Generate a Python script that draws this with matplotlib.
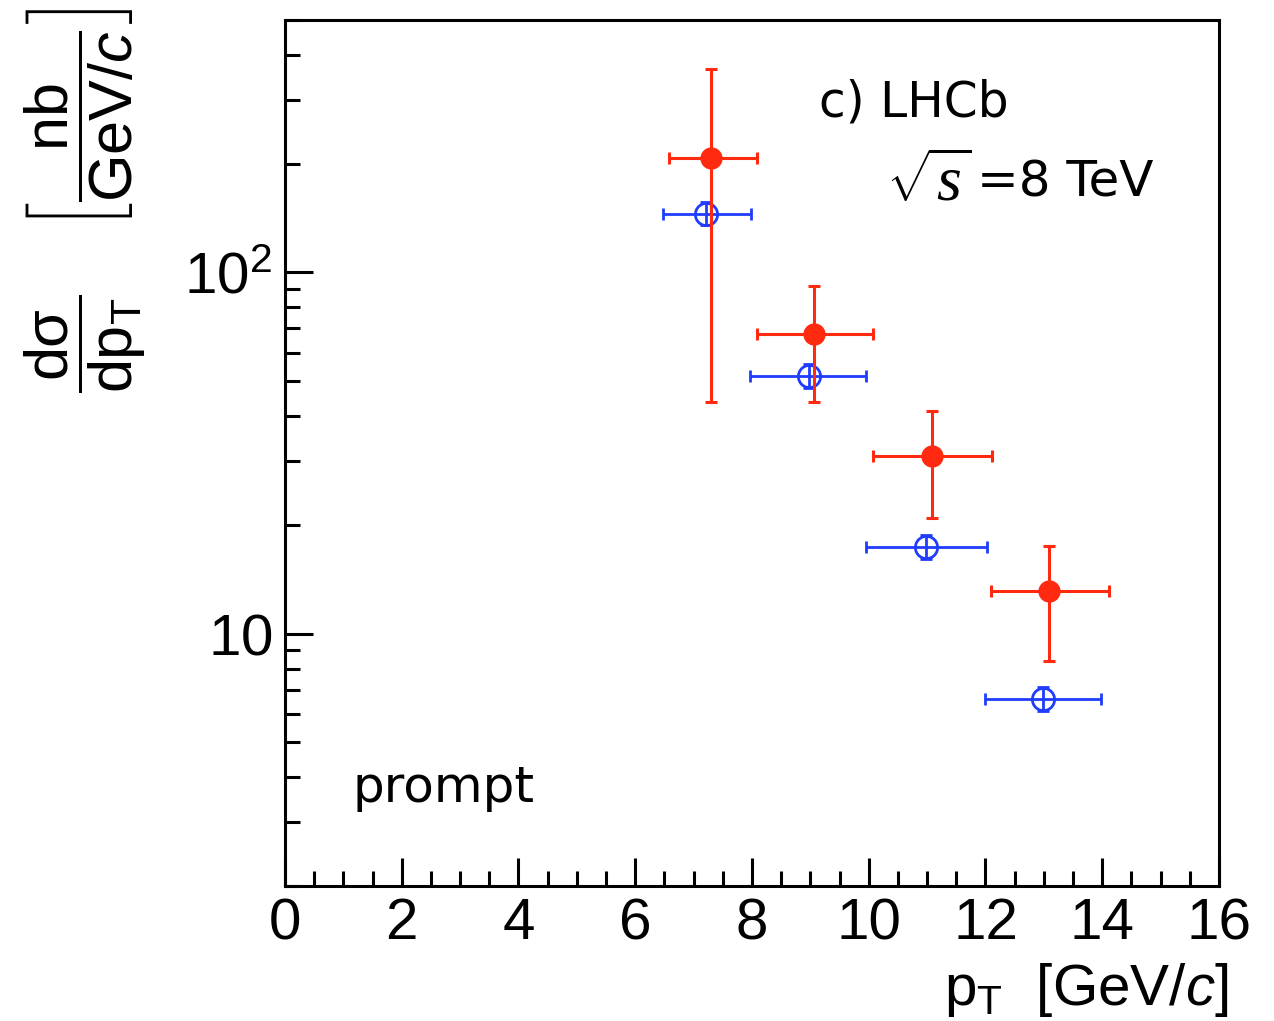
import numpy as np
import matplotlib
matplotlib.use('Agg')
import matplotlib.pyplot as plt
from matplotlib.ticker import MultipleLocator, LogLocator, FixedFormatter, FixedLocator, NullFormatter

plt.rcParams['mathtext.fontset'] = 'custom'
plt.rcParams['mathtext.rm'] = 'Liberation Sans'
plt.rcParams['mathtext.it'] = 'Liberation Serif:italic'
plt.rcParams['mathtext.sf'] = 'Liberation Sans:italic'

# prompt cross-section, two measurements
pt_red = [7.3, 9.07, 11.08, 13.08]
y_red = [208, 67.4, 31.0, 13.1]
y_red_up = [366, 91.5, 41.3, 17.5]
y_red_lo = [43.7, 43.7, 20.9, 8.37]
x_red_lo = [6.57, 8.08, 10.07, 12.09]
x_red_hi = [8.09, 10.08, 12.12, 14.11]

pt_blue = [7.22, 8.97, 10.98, 12.98]
y_blue = [145.6, 51.6, 17.4, 6.58]
y_blue_up = [157, 55.7, 18.8, 7.1]
y_blue_lo = [135, 47.8, 16.1, 6.1]
x_blue_lo = [6.48, 7.97, 9.96, 12.0]
x_blue_hi = [7.99, 9.96, 12.02, 13.98]

RED = '#ff2a10'
BLUE = '#1f3cff'

fig = plt.figure(figsize=(12.74, 10.21), dpi=100)
ax = fig.add_axes([0.2237, 0.1322, 0.7331, 0.8482])
ax.set_yscale('log')

def err(v, lo, hi):
    v = np.asarray(v); return [v - np.asarray(lo), np.asarray(hi) - v]

ax.errorbar(pt_red, y_red, yerr=err(y_red, y_red_lo, y_red_up),
            xerr=err(pt_red, x_red_lo, x_red_hi), fmt='o', color=RED,
            ms=15, elinewidth=2.2, capsize=4.5, capthick=2.2, zorder=3)
ax.errorbar(pt_blue, y_blue, yerr=err(y_blue, y_blue_lo, y_blue_up),
            xerr=err(pt_blue, x_blue_lo, x_blue_hi), fmt='o', color=BLUE,
            mfc='none', mec=BLUE, mew=2.0, ms=16, elinewidth=2.0,
            capsize=4, capthick=2.0, zorder=2)

ax.set_xlim(0, 16)
ax.set_ylim(2.0, 500)
ax.xaxis.set_major_locator(MultipleLocator(2))
ax.xaxis.set_minor_locator(MultipleLocator(0.5))
ax.yaxis.set_major_locator(FixedLocator([10, 100]))
ax.yaxis.set_major_formatter(FixedFormatter([r'$\mathrm{10}$', r'$\mathrm{10^{2}}$']))
ax.yaxis.set_minor_locator(LogLocator(base=10, subs=np.arange(2, 10)))
ax.yaxis.set_minor_formatter(NullFormatter())

for s in ax.spines.values():
    s.set_linewidth(2.2)
ax.tick_params(which='both', direction='in', top=False, right=False, width=2.2)
ax.tick_params(which='major', length=20)
ax.tick_params(which='minor', length=10.5)
ax.tick_params(axis='x', which='major', labelsize=42, pad=8)
ax.tick_params(axis='y', which='major', labelsize=42, pad=9)
for lab in ax.get_xticklabels() + ax.get_yticklabels():
    lab.set_fontfamily('Liberation Sans')

ax.text(0.572, 0.905, 'c) LHCb', transform=ax.transAxes, fontsize=35,
        family='DejaVu Sans', ha='left', va='center')
ax.text(0.643, 0.812, r'$\sqrt{\mathit{s}}$', transform=ax.transAxes,
        fontsize=46, family='DejaVu Sans', ha='left', va='center')
ax.text(0.741, 0.812, '=8 TeV', transform=ax.transAxes,
        fontsize=36, family='DejaVu Sans', ha='left', va='center')
ax.text(0.072, 0.113, 'prompt', transform=ax.transAxes, fontsize=36,
        family='DejaVu Sans', ha='left', va='center')

fig.text(0.964, 0.030, r'$\mathrm{p_{T}}$  [GeV/$\mathsf{c}$]', fontsize=42,
         family='Liberation Sans', ha='right', va='center')
fig.text(0.067, 0.804,
         r'$\dfrac{\mathrm{d\sigma}}{\mathrm{dp_{T}}}\ \ \ \ \left[\dfrac{\mathrm{nb}}{\mathrm{GeV/}\mathsf{c}}\right]$',
         fontsize=44, rotation=90, ha='center', va='center')

fig.patch.set_facecolor('white')
fig.savefig('out.png', dpi=100)
